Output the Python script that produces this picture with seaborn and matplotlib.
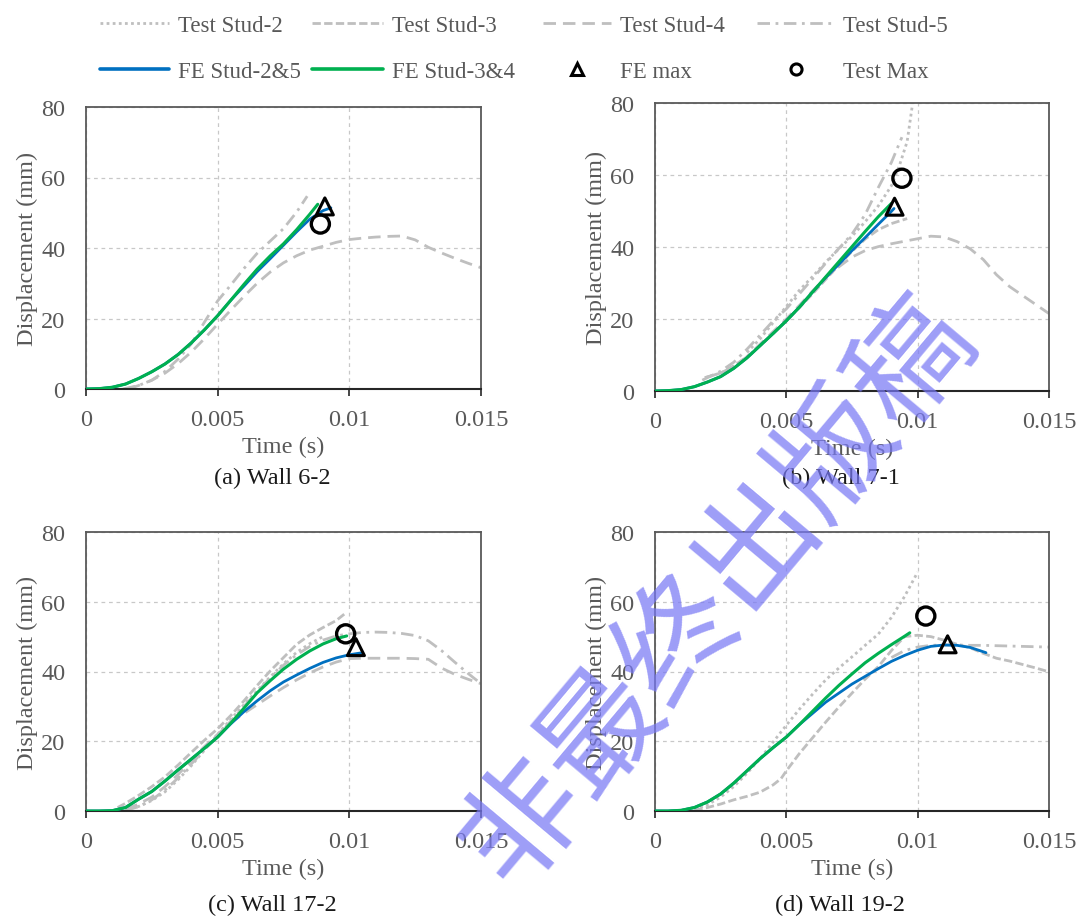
import numpy as np
import matplotlib
matplotlib.use("Agg")
import matplotlib.pyplot as plt
from matplotlib.lines import Line2D
import seaborn as sns

sns.set_theme(style="white")
plt.rcParams['font.family'] = ['Liberation Serif', 'DejaVu Serif']

# ---------------- data ----------------
# Panel (a) Wall 6-2
a_fe25_t = [0, 0.0005, 0.001, 0.0015, 0.002, 0.0025, 0.003, 0.0035, 0.004, 0.0045, 0.005, 0.0055, 0.006, 0.0065, 0.007, 0.0075, 0.008, 0.0085, 0.009, 0.0093]
a_fe25_d = [0, 0.1, 0.5, 1.4, 3.0, 4.9, 7.1, 9.8, 13.1, 16.8, 20.8, 25.2, 29.2, 33.3, 37.0, 40.8, 44.6, 48.2, 50.6, 51.4]
a_fe34_t = [0, 0.0005, 0.001, 0.0015, 0.002, 0.0025, 0.003, 0.0035, 0.004, 0.0045, 0.005, 0.0055, 0.006, 0.0065, 0.007, 0.0075, 0.008, 0.0085, 0.0088]
a_fe34_d = [0, 0.1, 0.5, 1.4, 3.0, 4.9, 7.1, 9.8, 13.1, 16.8, 20.8, 25.2, 29.7, 34.0, 37.8, 41.2, 45.2, 49.6, 52.4]
a_s5_t = [0.0014, 0.002, 0.0025, 0.003, 0.0035, 0.004, 0.0045, 0.005, 0.0055, 0.006, 0.0065, 0.007, 0.0075, 0.008, 0.0084]
a_s5_d = [0, 1.0, 2.5, 5.0, 8.5, 12.8, 19.0, 25.0, 29.5, 34.2, 38.5, 42.0, 45.5, 50.2, 54.7]
a_s4_t = [0.0016, 0.002, 0.0025, 0.003, 0.0035, 0.004, 0.0045, 0.005, 0.0055, 0.006, 0.0065, 0.007, 0.0075, 0.008, 0.0085, 0.009, 0.0095, 0.01, 0.0105, 0.011, 0.0115, 0.012, 0.0125, 0.013, 0.0135, 0.014, 0.0145, 0.015]
a_s4_d = [0, 1.0, 2.5, 4.5, 7.2, 10.5, 14.3, 18.4, 22.4, 26.3, 30.0, 33.2, 35.8, 37.8, 39.4, 40.5, 41.6, 42.4, 42.8, 43.1, 43.3, 43.4, 42.3, 40.2, 38.6, 37.1, 35.7, 34.4]
a_femax = (0.00907, 51.8)
a_testmax = (0.0089, 46.8)

# Panel (b) Wall 7-1
b_fe25_t = [0, 0.0005, 0.001, 0.0015, 0.002, 0.0025, 0.003, 0.0035, 0.004, 0.0045, 0.005, 0.0055, 0.006, 0.0065, 0.007, 0.0075, 0.008, 0.0085, 0.009, 0.0091]
b_fe25_d = [0, 0.1, 0.4, 1.2, 2.5, 4.0, 6.3, 9.2, 12.6, 16.0, 19.5, 23.3, 27.5, 31.5, 35.2, 39.0, 42.6, 46.3, 49.9, 50.7]
b_fe34_t = [0, 0.0005, 0.001, 0.0015, 0.002, 0.0025, 0.003, 0.0035, 0.004, 0.0045, 0.005, 0.0055, 0.006, 0.0065, 0.007, 0.0075, 0.008, 0.0085, 0.009]
b_fe34_d = [0, 0.1, 0.4, 1.2, 2.5, 4.0, 6.3, 9.2, 12.6, 16.0, 19.5, 23.3, 27.5, 31.7, 35.9, 40.1, 44.3, 48.4, 52.1]
b_s2_t = [0.0035, 0.004, 0.0045, 0.005, 0.0055, 0.006, 0.0065, 0.007, 0.0075, 0.008, 0.0085, 0.009, 0.0093, 0.0096, 0.0098]
b_s2_d = [10.7, 14.5, 19.0, 23.5, 28.0, 31.8, 35.8, 39.5, 43.0, 47.0, 51.4, 57.0, 62.5, 69.3, 79.5]
b_s3_t = [0.0019, 0.0025, 0.003, 0.0035, 0.004, 0.0045, 0.005, 0.0055, 0.006, 0.0065, 0.007, 0.0075, 0.008, 0.0085, 0.009, 0.0096]
b_s3_d = [3.7, 5.0, 7.0, 9.5, 12.6, 16.0, 19.5, 23.2, 27.0, 31.0, 35.0, 38.8, 42.2, 44.8, 46.5, 47.9]
b_s4_t = [0.0019, 0.0025, 0.003, 0.0035, 0.004, 0.0045, 0.005, 0.0055, 0.006, 0.0065, 0.007, 0.0075, 0.008, 0.0085, 0.009, 0.0095, 0.01, 0.0105, 0.011, 0.0115, 0.012, 0.0125, 0.013, 0.0135, 0.014, 0.0145, 0.015]
b_s4_d = [3.7, 5.0, 6.8, 9.5, 13.0, 16.5, 20.0, 23.8, 27.8, 31.5, 34.5, 37.2, 39.0, 40.1, 40.9, 41.6, 42.3, 43.0, 42.8, 41.5, 39.5, 36.5, 32.3, 29.0, 26.5, 24.0, 21.5]
b_s5_t = [0.0018, 0.0025, 0.003, 0.0035, 0.004, 0.0045, 0.005, 0.0055, 0.006, 0.0065, 0.007, 0.0075, 0.008, 0.0085, 0.009, 0.0094]
b_s5_d = [3.0, 5.5, 8.0, 11.6, 15.5, 19.5, 22.8, 27.0, 31.2, 35.5, 39.6, 43.6, 49.0, 56.5, 63.5, 70.5]
b_femax = (0.00912, 51.2)
b_testmax = (0.0094, 59.1)

# Panel (c) Wall 17-2
c_fe25_t = [0, 0.0005, 0.001, 0.0015, 0.002, 0.0025, 0.003, 0.0035, 0.004, 0.0045, 0.005, 0.0055, 0.006, 0.0065, 0.007, 0.0075, 0.008, 0.0085, 0.009, 0.0095, 0.01, 0.0105]
c_fe25_d = [0, 0, 0.1, 1.0, 3.4, 5.6, 8.6, 11.8, 14.9, 18.0, 21.2, 25.0, 28.5, 31.6, 34.5, 37.0, 39.0, 40.9, 42.6, 43.9, 44.8, 45.4]
c_fe34_t = [0, 0.0005, 0.001, 0.0015, 0.002, 0.0025, 0.003, 0.0035, 0.004, 0.0045, 0.005, 0.0055, 0.006, 0.0065, 0.007, 0.0075, 0.008, 0.0085, 0.009, 0.0095, 0.0099]
c_fe34_d = [0, 0, 0.1, 1.0, 3.4, 5.6, 8.6, 11.8, 14.9, 18.0, 21.2, 25.2, 29.5, 33.9, 37.4, 40.7, 43.5, 45.9, 47.9, 49.4, 50.2]
c_s2_t = [0.0015, 0.002, 0.0025, 0.003, 0.0035, 0.004, 0.0045, 0.005, 0.0055, 0.006, 0.0065, 0.007, 0.0075, 0.008, 0.0085, 0.009]
c_s2_d = [0.3, 1.3, 3.0, 5.5, 9.0, 13.0, 17.5, 22.0, 26.3, 30.5, 34.5, 38.5, 42.2, 45.5, 48.0, 50.0]
c_s3_t = [0.0012, 0.0015, 0.002, 0.0025, 0.003, 0.0035, 0.004, 0.0045, 0.005, 0.0055, 0.006, 0.0065, 0.007, 0.0075, 0.008, 0.0085, 0.009, 0.0095, 0.0099]
c_s3_d = [1.0, 2.2, 4.5, 7.0, 9.8, 13.2, 16.8, 20.3, 23.6, 27.4, 31.6, 36.0, 40.2, 44.0, 47.8, 50.5, 52.6, 54.6, 57.0]
c_s4_t = [0.0015, 0.002, 0.0025, 0.003, 0.0035, 0.004, 0.0045, 0.005, 0.0055, 0.006, 0.0065, 0.007, 0.0075, 0.008, 0.0085, 0.009, 0.0095, 0.01, 0.0105, 0.011, 0.0115, 0.012, 0.0125, 0.013, 0.0135, 0.014, 0.0145, 0.015]
c_s4_d = [0.5, 2.0, 4.0, 7.0, 10.5, 14.5, 18.5, 22.0, 25.3, 28.0, 30.5, 33.0, 35.4, 37.6, 39.6, 41.3, 42.7, 43.7, 43.8, 43.8, 43.8, 43.8, 43.7, 43.5, 41.0, 39.2, 37.8, 36.5]
c_s5_t = [0.0015, 0.002, 0.0025, 0.003, 0.0035, 0.004, 0.0045, 0.005, 0.0055, 0.006, 0.0065, 0.007, 0.0075, 0.008, 0.0085, 0.009, 0.0095, 0.01, 0.0105, 0.011, 0.0115, 0.012, 0.0125, 0.013, 0.0135, 0.014, 0.0145, 0.015]
c_s5_d = [0.3, 1.2, 3.2, 6.0, 9.5, 13.5, 17.5, 21.5, 25.8, 30.0, 34.2, 38.2, 41.8, 44.8, 47.2, 49.0, 50.2, 50.8, 51.2, 51.3, 51.2, 50.9, 50.3, 48.8, 46.0, 42.7, 39.5, 36.5]
c_femax = (0.01025, 47.0)
c_testmax = (0.00986, 50.8)

# Panel (d) Wall 19-2
d_fe25_t = [0, 0.0005, 0.001, 0.0015, 0.002, 0.0025, 0.003, 0.0035, 0.004, 0.0045, 0.005, 0.0055, 0.006, 0.0065, 0.007, 0.0075, 0.008, 0.0085, 0.009, 0.0095, 0.01, 0.0105, 0.011, 0.0115, 0.012, 0.0126]
d_fe25_d = [0, 0, 0.2, 1.0, 2.6, 4.9, 8.0, 11.5, 15.0, 18.2, 21.2, 24.8, 28.0, 31.2, 33.8, 36.4, 38.6, 40.8, 42.9, 44.6, 46.1, 47.2, 47.6, 47.5, 46.9, 45.4]
d_fe34_t = [0, 0.0005, 0.001, 0.0015, 0.002, 0.0025, 0.003, 0.0035, 0.004, 0.0045, 0.005, 0.0055, 0.006, 0.0065, 0.007, 0.0075, 0.008, 0.0085, 0.009, 0.0095, 0.0097]
d_fe34_d = [0, 0, 0.2, 1.0, 2.6, 4.9, 8.0, 11.5, 15.0, 18.2, 21.2, 24.8, 28.6, 32.4, 36.0, 39.3, 42.5, 45.2, 47.7, 50.1, 51.1]
d_s2_t = [0.0015, 0.002, 0.0025, 0.003, 0.0035, 0.004, 0.0045, 0.005, 0.0055, 0.006, 0.0065, 0.007, 0.0075, 0.008, 0.0085, 0.009, 0.0095, 0.01]
d_s2_d = [0.5, 1.8, 4.0, 7.0, 10.8, 15.0, 19.8, 24.6, 29.2, 33.5, 37.6, 41.0, 44.2, 47.5, 50.7, 55.5, 61.5, 68.5]
d_s3_t = [0.0015, 0.002, 0.0025, 0.003, 0.0035, 0.004, 0.0045, 0.0048, 0.005, 0.0055, 0.006, 0.0065, 0.007, 0.0075, 0.008, 0.0085, 0.009, 0.0095, 0.01, 0.0105, 0.011, 0.0115, 0.012, 0.0125, 0.013, 0.0135, 0.014, 0.0145, 0.015]
d_s3_d = [0.3, 1.0, 2.0, 3.2, 4.2, 5.4, 7.5, 9.3, 11.5, 16.5, 21.0, 25.5, 29.8, 33.8, 37.8, 41.4, 46.0, 50.0, 50.4, 50.0, 49.0, 47.8, 46.8, 45.2, 43.8, 43.0, 42.0, 41.0, 39.9]
d_s5_t = [0.009, 0.0095, 0.01, 0.0105, 0.011, 0.0115, 0.012, 0.0125, 0.013, 0.0135, 0.014, 0.0145, 0.015]
d_s5_d = [44.0, 46.0, 47.0, 47.5, 47.6, 47.6, 47.5, 47.5, 47.4, 47.3, 47.2, 47.1, 47.0]
d_femax = (0.01114, 47.8)
d_testmax = (0.01031, 55.9)

x_ticks = [0, 0.005, 0.01, 0.015]
x_ticklabels = ["0", "0.005", "0.01", "0.015"]
y_ticks = [0, 20, 40, 60, 80]
captions = ["(a) Wall 6-2", "(b) Wall 7-1", "(c) Wall 17-2", "(d) Wall 19-2"]
legend_cols = [["Test Stud-2", "FE Stud-2&5"], ["Test Stud-3", "FE Stud-3&4"],
               ["Test Stud-4", "FE max"], ["Test Stud-5", "Test Max"]]

# ---------------- styles ----------------
GRAY = '#bfbfbf'
BLUE = '#0070c0'
GREEN = '#00b050'
TXT = '#595959'
LS = {
    's2': (0, (1, 1.2)),
    's3': (0, (3, 1.2)),
    's4': (0, (4.5, 2.5)),
    's5': (0, (4.5, 2, 1, 2)),
}

W, H = 1078, 920
fig = plt.figure(figsize=(W / 100, H / 100), dpi=100)

def frac(l, t, r, b):
    return [l / W, 1 - b / H, (r - l) / W, (b - t) / H]

boxes = [frac(86, 108, 481, 390), frac(655, 104, 1049, 392),
         frac(86, 533, 481, 812), frac(655, 533, 1049, 812)]

panels = [
    dict(tests=[('s5', a_s5_t, a_s5_d), ('s4', a_s4_t, a_s4_d)],
         fe25=(a_fe25_t, a_fe25_d), fe34=(a_fe34_t, a_fe34_d), femax=a_femax, testmax=a_testmax),
    dict(tests=[('s2', b_s2_t, b_s2_d), ('s3', b_s3_t, b_s3_d), ('s4', b_s4_t, b_s4_d), ('s5', b_s5_t, b_s5_d)],
         fe25=(b_fe25_t, b_fe25_d), fe34=(b_fe34_t, b_fe34_d), femax=b_femax, testmax=b_testmax),
    dict(tests=[('s2', c_s2_t, c_s2_d), ('s3', c_s3_t, c_s3_d), ('s4', c_s4_t, c_s4_d), ('s5', c_s5_t, c_s5_d)],
         fe25=(c_fe25_t, c_fe25_d), fe34=(c_fe34_t, c_fe34_d), femax=c_femax, testmax=c_testmax),
    dict(tests=[('s2', d_s2_t, d_s2_d), ('s3', d_s3_t, d_s3_d), ('s5', d_s5_t, d_s5_d)],
         fe25=(d_fe25_t, d_fe25_d), fe34=(d_fe34_t, d_fe34_d), femax=d_femax, testmax=d_testmax),
]

cap_pos = [(272, 478), (841, 478), (272, 905), (840, 905)]
FS = 17.5

for i, (box, p) in enumerate(zip(boxes, panels)):
    ax = fig.add_axes(box)
    ax.set_facecolor('white')
    for key, t, d in p['tests']:
        sns.lineplot(x=np.array(t), y=np.array(d), ax=ax, color=GRAY, lw=2.0,
                     linestyle=LS[key], estimator=None, sort=False, zorder=2)
    sns.lineplot(x=np.array(p['fe25'][0]), y=np.array(p['fe25'][1]), ax=ax, color=BLUE,
                 lw=2.0, estimator=None, sort=False, zorder=3)
    sns.lineplot(x=np.array(p['fe34'][0]), y=np.array(p['fe34'][1]), ax=ax, color=GREEN,
                 lw=2.2, estimator=None, sort=False, zorder=4)
    sns.scatterplot(x=[p['femax'][0]], y=[p['femax'][1]], ax=ax, marker='^', s=150,
                    color='black', facecolor='none', edgecolor='black', linewidth=2.2, zorder=5)
    sns.scatterplot(x=[p['testmax'][0]], y=[p['testmax'][1]], ax=ax, marker='o', s=170,
                    color='black', facecolor='none', edgecolor='black', linewidth=2.4, zorder=5)

    ax.set_xlim(0, 0.015)
    ax.set_ylim(0, 80)
    ax.set_xticks(x_ticks)
    ax.set_xticklabels(x_ticklabels)
    ax.set_yticks(y_ticks)
    ax.tick_params(axis='x', direction='out', length=5, width=1.2, color='#262626',
                   pad=9.5, labelsize=FS, labelcolor=TXT, bottom=True)
    ax.tick_params(axis='y', length=0, pad=15, labelsize=FS, labelcolor=TXT)
    ax.grid(True, color='#c8c8c8', lw=0.9, linestyle=(0, (3, 3)))
    ax.set_axisbelow(True)
    for s in ['top', 'right', 'left']:
        ax.spines[s].set_color('#595959')
        ax.spines[s].set_linewidth(1.3)
        ax.spines[s].set_visible(True)
    ax.spines['bottom'].set_color('#262626')
    ax.spines['bottom'].set_linewidth(1.5)
    ax.set_xlabel('Time (s)', fontsize=FS, color=TXT, labelpad=4)
    ax.set_ylabel('Displacement (mm)', fontsize=FS, color=TXT, labelpad=2)
    fig.text(cap_pos[i][0] / W, 1 - cap_pos[i][1] / H, captions[i], ha='center', va='center',
             fontsize=FS, color='#1a1a1a')

# ---------------- legend (four columns, Excel-like spacing) ----------------
h_s2 = Line2D([], [], color=GRAY, lw=2.0, linestyle=LS['s2'])
h_s3 = Line2D([], [], color=GRAY, lw=2.0, linestyle=LS['s3'])
h_s4 = Line2D([], [], color=GRAY, lw=2.0, linestyle=LS['s4'])
h_s5 = Line2D([], [], color=GRAY, lw=2.0, linestyle=LS['s5'])
h_fe25 = Line2D([], [], color=BLUE, lw=2.6)
h_fe34 = Line2D([], [], color=GREEN, lw=2.6)
h_femax = Line2D([], [], ls='none', marker='^', mfc='none', mec='black', mew=2.2, ms=8)
h_tmax = Line2D([], [], ls='none', marker='o', mfc='none', mec='black', mew=2.2, ms=8)
col_handles = [[h_s2, h_fe25], [h_s3, h_fe34], [h_s4, h_femax], [h_s5, h_tmax]]
col_x = [100, 312, 543, 757]
col_hlen = [3.0, 3.1, 2.97, 3.36]
for hs, labs, x0, hl in zip(col_handles, legend_cols, col_x, col_hlen):
    leg = fig.legend(hs, labs, ncol=1, loc='upper left', bbox_to_anchor=(x0 / W, 1 - 16 / H),
                     frameon=False, fontsize=16.5, labelcolor=TXT, handlelength=hl,
                     handletextpad=0.4, labelspacing=1.07, borderpad=0, borderaxespad=0)

# ---------------- watermark ----------------
fig.text(718 / W, 1 - 592 / H, "非最终出版稿", fontsize=87, rotation=50,
         rotation_mode='anchor', ha='center', va='center', color='#7878f5', alpha=0.72,
         family=['Noto Sans CJK SC', 'DejaVu Sans'], zorder=10)

fig.savefig('out.png', dpi=100, facecolor='white')
